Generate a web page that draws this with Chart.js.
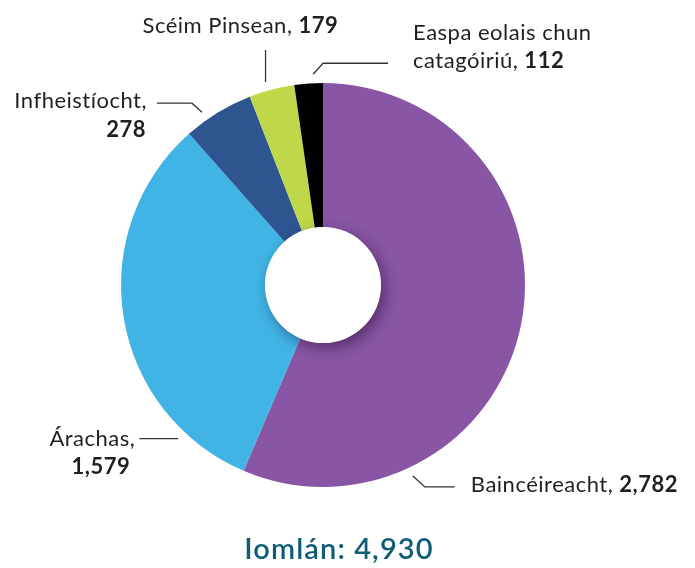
<!DOCTYPE html>
<html>
<head>
<meta charset="utf-8">
<script src="https://cdn.jsdelivr.net/npm/chart.js@4"></script>
<style>
body { margin: 0; background: #fff; }
#wrap { width: 695px; height: 568px; position: relative; }
</style>
</head>
<body>
<div id="wrap"><canvas id="myChart"></canvas></div>
<script>
var categories = ['Baincéireacht', 'Árachas', 'Infheistíocht', 'Scéim Pinsean', 'Easpa eolais chun catagóiriú']
var values = [2782, 1579, 278, 179, 112]
var totalLabel = 'Iomlán'

var colours = ['#8856a4', '#41b4e6', '#2f5590', '#bed84a', '#000000']
var textColour = '#231f20'

// where each leader line leaves the ring (degrees clockwise from 12 o'clock)
// and how the text sits against the end of the line
var labelLayout = [
    { angle: 154.8, path: [[12, 11], [42, 11]], lines: [{ split: 'one', dx: 16, dy: 5, align: 'left' }] },
    { angle: 223.3, path: [[-39, 0]], lines: [{ split: 'name', dx: -4, dy: 7, align: 'right' }, { split: 'value', dx: -9, dy: 35, align: 'right' }] },
    { angle: -35, path: [[-10, -9], [-45, -9]], lines: [{ split: 'name', dx: -10, dy: 5, align: 'right' }, { split: 'value', dx: -11, dy: 34, align: 'right' }] },
    { angle: -15.8, path: [[0, -32]], lines: [{ split: 'one', dx: -123, dy: -17, align: 'left' }] },
    { angle: -2.7, path: [[10, -11], [75, -11]], lines: [{ split: 'head', words: 3, dx: 25, dy: -23, align: 'left' }, { split: 'tail', words: 3, dx: 25, dy: 5, align: 'left' }] }
]

function fmt(n) {
    return n.toLocaleString('en-US')
}

function partsFor(line, name, value) {
    var words = name.split(' ')
    if (line.split == 'one') return [[name + ', ', false], [fmt(value), true]]
    if (line.split == 'name') return [[name + ',', false]]
    if (line.split == 'value') return [[fmt(value), true]]
    if (line.split == 'head') return [[words.slice(0, line.words).join(' '), false]]
    return [[words.slice(line.words).join(' ') + ', ', false], [fmt(value), true]]
}

function drawParts(ctx, parts, x, y, align) {
    var width = 0
    ctx.letterSpacing = '0.5px'
    parts.forEach(function (p) {
        ctx.font = (p[1] ? 'bold ' : '') + '22px Lato'
        width += ctx.measureText(p[0]).width
    })
    if (align == 'right') x -= width
    parts.forEach(function (p) {
        ctx.font = (p[1] ? 'bold ' : '') + '22px Lato'
        ctx.fillText(p[0], x, y)
        x += ctx.measureText(p[0]).width
    })
}

var holeShadow = {
    id: 'holeShadow',
    afterDatasetsDraw: function (chart) {
        var arc = chart.getDatasetMeta(0).data[0]
        var ctx = chart.ctx
        ctx.save()
        ctx.shadowColor = 'rgba(30,0,40,0.45)'
        ctx.shadowBlur = 14
        ctx.shadowOffsetX = 4
        ctx.shadowOffsetY = 5
        ctx.fillStyle = '#fff'
        ctx.beginPath()
        ctx.arc(arc.x, arc.y, arc.innerRadius + 0.5, 0, Math.PI * 2)
        ctx.fill()
        ctx.restore()
    }
}

var leaderLabels = {
    id: 'leaderLabels',
    afterDraw: function (chart) {
        var arc = chart.getDatasetMeta(0).data[0]
        var ctx = chart.ctx
        ctx.save()
        ctx.strokeStyle = '#333'
        ctx.lineWidth = 1.3
        ctx.fillStyle = textColour
        ctx.textBaseline = 'alphabetic'
        labelLayout.forEach(function (lay, i) {
            var a = lay.angle * Math.PI / 180
            var r = arc.outerRadius + 9
            var sx = arc.x + r * Math.sin(a)
            var sy = arc.y - r * Math.cos(a)
            ctx.beginPath()
            ctx.moveTo(sx, sy)
            var ex = sx, ey = sy
            lay.path.forEach(function (p) {
                ex = sx + p[0]
                ey = sy + p[1]
                ctx.lineTo(ex, ey)
            })
            ctx.stroke()
            lay.lines.forEach(function (line) {
                drawParts(ctx, partsFor(line, categories[i], values[i]), ex + line.dx, ey + line.dy, line.align)
            })
        })
        var total = values.reduce(function (s, v) { return s + v }, 0)
        ctx.fillStyle = '#0f5c77'
        ctx.font = '600 29px Lato'
        ctx.letterSpacing = '1.1px'
        ctx.textAlign = 'center'
        ctx.fillText(totalLabel + ': ' + fmt(total), arc.x + 16, 559)
        ctx.restore()
    }
}

let myChart = document.getElementById('myChart').getContext('2d')
let donut = new Chart(myChart, {
    type: 'doughnut',
    data: {
        labels: categories,
        datasets: [{
            data: values,
            backgroundColor: colours,
            borderWidth: 0
        }]
    },
    options: {
        responsive: true,
        maintainAspectRatio: false,
        animation: false,
        cutout: '28.5%',
        layout: { padding: { top: 83, bottom: 81, left: 121, right: 170 } },
        plugins: {
            legend: { display: false },
            tooltip: { enabled: false }
        }
    },
    plugins: [holeShadow, leaderLabels]
})
</script>
</body>
</html>
